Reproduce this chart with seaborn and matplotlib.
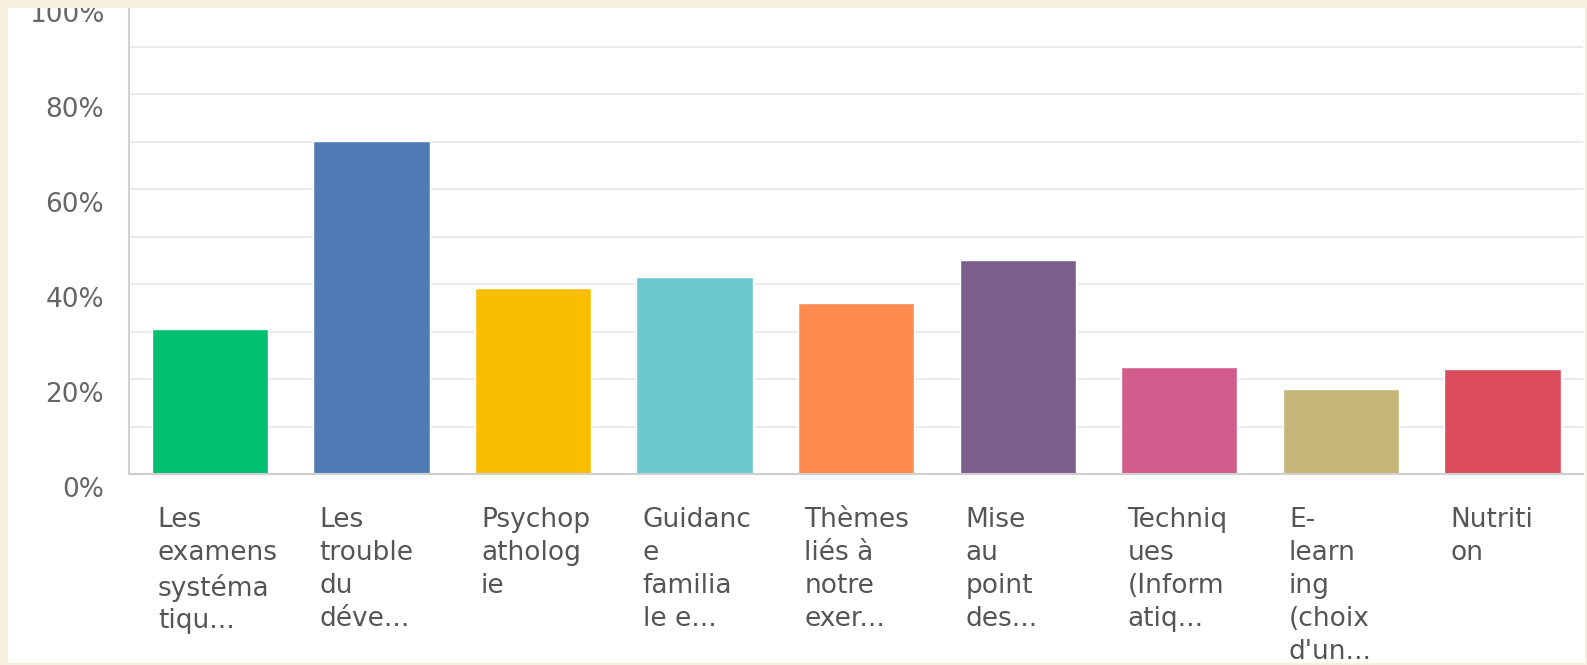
import numpy as np
import pandas as pd
import matplotlib
matplotlib.use('Agg')
import matplotlib.pyplot as plt
import matplotlib.transforms as mtransforms
from matplotlib.patches import Rectangle
from matplotlib.ticker import PercentFormatter, FixedLocator
import seaborn as sns

# données
categories = ['Les\nexamens\nsystéma\ntiqu...',
              'Les\ntrouble\ndu\ndéve...',
              'Psychop\natholog\nie',
              'Guidanc\ne\nfamilia\nle e...',
              'Thèmes\nliés à\nnotre\nexer...',
              'Mise\nau\npoint\ndes...',
              'Techniq\nues\n(Inform\natiq...',
              'E-\nlearn\ning\n(choix\nd\'un...',
              'Nutriti\non']
values = [0.305, 0.701, 0.391, 0.415, 0.361, 0.451, 0.226, 0.180, 0.221]
colors = ['#00BF6F', '#507CB6', '#F9BE00', '#6BC8CD', '#FF8B4F',
          '#7C5E8D', '#D25C8C', '#C5B679', '#DB4D5C']
major_ticks = [0, 0.2, 0.4, 0.6, 0.8, 1.0]
minor_ticks = [0.1, 0.3, 0.5, 0.7, 0.9]

df = pd.DataFrame({'cat': categories, 'val': values})

sns.set_style('white')
plt.rcParams['font.family'] = ['DejaVu Sans']

W, H = 1587, 665
cream = '#F6EFDE'
fig = plt.figure(figsize=(W / 100, H / 100), dpi=100, facecolor=cream)

# panneau blanc
fig.add_artist(Rectangle((8 / W, 2 / H), (1585 - 8) / W, (663 - 2) / H,
                         transform=fig.transFigure, facecolor='white',
                         edgecolor='none', zorder=-5))

ax = fig.add_axes([129 / W, 191 / H, (1583.3 - 129) / W, 475 / H])
ax.set_facecolor('none')

sns.barplot(data=df, x='cat', y='val', hue='cat', palette=colors,
            legend=False, width=0.72, saturation=1, ax=ax)

ax.set_xlim(-0.5, 8.5)
ax.set_ylim(0, 1.0)
ax.yaxis.set_major_locator(FixedLocator(major_ticks))
ax.yaxis.set_minor_locator(FixedLocator(minor_ticks))
ax.yaxis.set_major_formatter(PercentFormatter(1.0, decimals=0))
ax.grid(True, axis='y', which='both', color='#EBEBEB', lw=1.5, zorder=0)
ax.set_axisbelow(True)
ax.set_xlabel('')
ax.set_ylabel('')

for s in ['top', 'right']:
    ax.spines[s].set_visible(False)
ax.spines['left'].set_color('#D0D0D0')
ax.spines['left'].set_linewidth(1.5)
ax.spines['bottom'].set_color('#CFCFCF')
ax.spines['bottom'].set_linewidth(1.5)

ax.tick_params(axis='y', which='both', length=0, pad=18,
               labelsize=19, labelcolor='#666666')
ax.tick_params(axis='x', length=0, pad=24, labelsize=19, labelcolor='#555555')

fig.canvas.draw()
# étiquettes y décalées sous les lignes de grille
off_y = mtransforms.ScaledTranslation(0, -13 / 100, fig.dpi_scale_trans)
for lab in ax.get_yticklabels():
    lab.set_transform(lab.get_transform() + off_y)
# étiquettes x alignées à gauche
off_x = mtransforms.ScaledTranslation(-52 / 100, 0, fig.dpi_scale_trans)
for lab in ax.get_xticklabels():
    lab.set_ha('left')
    lab.set_va('top')
    lab.set_linespacing(1.34)
    lab.set_transform(lab.get_transform() + off_x)

# bord crème en haut (recouvre le haut du graphique)
fig.add_artist(Rectangle((0, 1 - 8 / H), 1, 8 / H, transform=fig.transFigure,
                         facecolor=cream, edgecolor='none', zorder=10))

fig.savefig('out.png', dpi=100, facecolor=cream)
